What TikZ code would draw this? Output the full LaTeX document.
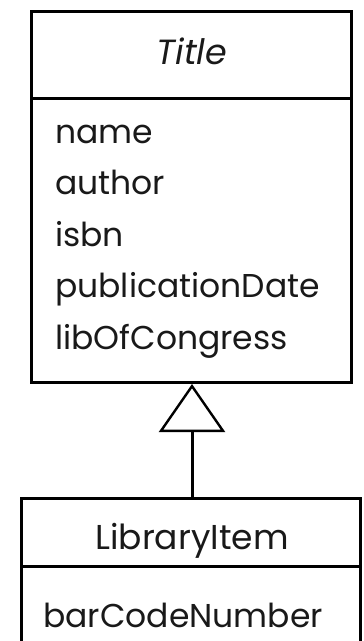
\documentclass[tikz,border=0pt]{standalone}
\usepackage{fontspec}
\setmainfont{Poppins}
\usetikzlibrary{arrows.meta}
\tikzset{
  umlbox/.style={draw=black, line width=3pt, inner sep=0pt, anchor=north},
  umltext/.style={inner sep=0pt, font=\fontsize{33}{33}\selectfont, text=black!90},
  attr/.style={umltext, anchor=base west},
  classname/.style={umltext, anchor=base, font=\fontsize{34.5}{34.5}\selectfont},
  inherit/.style={line width=3pt, -{Triangle[open, length=48pt, width=66pt, line width=2.4pt]}},
}
\begin{document}
\begin{tikzpicture}[x=1pt, y=-1pt]
  \useasboundingbox (0,0) rectangle (364,641);
  % Title class
  \node[umlbox, minimum width=320pt, minimum height=371.5pt] (title) at (191.5,9.5) {};
  \draw[line width=3pt] (title.west |- 0,98.5) coordinate (tdl) -- (title.east |- 0,98.5) coordinate (tdr);
  \node[classname, font=\fontsize{35}{35}\selectfont\itshape] (tname) at (192,64) {Title};
  \node[attr] (a1) at (55,143) {name};
  \node[attr] (a2) at (55,194.5) {author};
  \node[attr] (a3) at (55,246) {isbn};
  \node[attr] (a4) at (55,297.5) {publicationDate};
  \node[attr] (a5) at (55,349) {libOfCongress};
  % LibraryItem class (runs past the lower edge)
  \node[umlbox, minimum width=339pt, minimum height=170pt] (item) at (191,496.5) {};
  \draw[line width=3pt] (item.west |- 0,566.5) coordinate (idl) -- (item.east |- 0,566.5) coordinate (idr);
  \node[classname] (iname) at (192,549) {LibraryItem};
  \node[attr] (b1) at (43,627) {barCodeNumber};
  % generalization
  \draw[inherit] (item.north -| 192,0) -- (title.south -| 192,0);
\end{tikzpicture}
\end{document}
